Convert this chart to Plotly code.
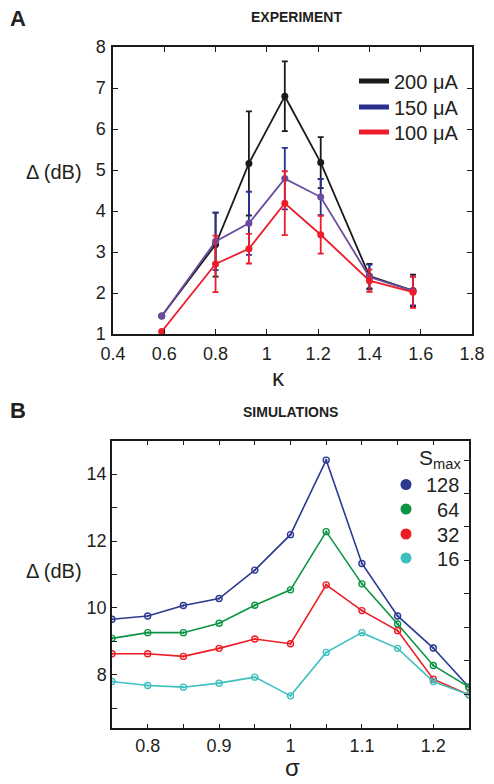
import plotly.graph_objects as go

# ---------------- Panel A data (EXPERIMENT) ----------------
kappa = [0.59, 0.80, 0.93, 1.07, 1.21, 1.40, 1.57]
d200 = [1.44, 3.18, 5.16, 6.80, 5.18, 2.41, 2.06]
e200 = [0.0, 0.78, 1.27, 0.85, 0.62, 0.30, 0.39]
d150 = [1.44, 3.26, 3.70, 4.79, 4.34, 2.39, 2.05]
e150 = [0.0, 0.70, 0.77, 0.75, 0.44, 0.30, 0.35]
d100 = [1.06, 2.71, 3.08, 4.19, 3.42, 2.30, 2.02]
e100 = [0.0, 0.69, 0.36, 0.78, 0.46, 0.27, 0.38]
legend_a = ["200 μA", "150 μA", "100 μA"]

# ---------------- Panel B data (SIMULATIONS) ----------------
sigma = [0.75, 0.80, 0.85, 0.90, 0.95, 1.00, 1.05, 1.10, 1.15, 1.20, 1.25]
s128 = [9.66, 9.76, 10.07, 10.28, 11.13, 12.19, 14.42, 11.33, 9.76, 8.80, 7.63]
s64 = [9.09, 9.26, 9.26, 9.54, 10.08, 10.54, 12.28, 10.72, 9.52, 8.28, 7.63]
s32 = [8.63, 8.63, 8.55, 8.79, 9.07, 8.93, 10.69, 9.92, 9.32, 7.87, 7.40]
s16 = [7.80, 7.68, 7.63, 7.75, 7.93, 7.37, 8.67, 9.26, 8.79, 7.80, 7.40]
legend_b = ["128", "\u200764", "\u200732", "\u200716"]

xt_a = [0.4, 0.6, 0.8, 1.0, 1.2, 1.4, 1.6, 1.8]
xt_a_text = ["0.4", "0.6", "0.8", "1", "1.2", "1.4", "1.6", "1.8"]
yt_a = [1, 2, 3, 4, 5, 6, 7, 8]
xt_b = [0.8, 0.9, 1.0, 1.1, 1.2]
xt_b_text = ["0.8", "0.9", "1", "1.1", "1.2"]
xt_b_minor = [0.85, 0.95, 1.05, 1.15]
yt_b = [8, 10, 12, 14]
yt_b_minor = [7, 9, 11, 13]
yt_b_right = [7.42, 8.42, 9.42, 10.42, 11.42, 12.42, 13.42, 14.42]

FONT = "Liberation Sans, Arial, Helvetica, sans-serif"
TXT = "#231f20"
BLACK = "#1a1a1a"
BLUE = "#2a2f8e"
PURPLE = "#6b4c9e"
RED = "#ec1c2a"
C128 = "#2b3990"
C64 = "#0b9444"
C32 = "#ed1c24"
C16 = "#3dbfbf"

W, H = 494, 784
fig = go.Figure()


def exp_trace(y, e, line_col, err_col):
    return go.Scatter(
        x=kappa, y=y, mode="lines+markers", showlegend=False,
        line=dict(color=line_col, width=1.8),
        marker=dict(color=line_col, size=7, line=dict(width=0)),
        error_y=dict(type="data", array=e, visible=True, color=err_col,
                     thickness=1.8, width=3),
        xaxis="x", yaxis="y",
    )


fig.add_trace(exp_trace(d200, e200, BLACK, BLACK))
fig.add_trace(exp_trace(d150, e150, PURPLE, BLUE))
fig.add_trace(exp_trace(d100, e100, RED, RED))

legends_a = ["legend", "legend3", "legend4"]
legends_b = ["legend2", "legend5", "legend6", "legend7"]

for name, col, lg in zip(legend_a, [BLACK, BLUE, RED], legends_a):
    fig.add_trace(go.Scatter(x=[None], y=[None], mode="lines", name=name,
                             line=dict(color=col, width=5), legend=lg,
                             xaxis="x", yaxis="y"))

for y, col, name, lg in zip([s128, s64, s32, s16], [C128, C64, C32, C16],
                            legend_b, legends_b):
    fig.add_trace(go.Scatter(
        x=sigma, y=y, mode="lines+markers", showlegend=False,
        line=dict(color=col, width=1.6),
        marker=dict(color=col, size=6, symbol="circle-open-dot",
                    line=dict(width=1.4, color=col)),
        xaxis="x2", yaxis="y2"))
    fig.add_trace(go.Scatter(
        x=[None], y=[None], mode="markers", name=name, legend=lg,
        marker=dict(color=col, size=11), xaxis="x2", yaxis="y2"))

# dummy trace for right-side tick axis of panel B
fig.add_trace(go.Scatter(x=[None], y=[None], showlegend=False,
                         xaxis="x2", yaxis="y3"))

axis_common = dict(showline=True, linecolor=BLACK, linewidth=1.5,
                   ticks="inside", ticklen=5, tickwidth=1.2, tickcolor=BLACK,
                   showgrid=False, zeroline=False, automargin=False,
                   tickfont=dict(family=FONT, size=18, color=TXT))
minor_common = dict(ticks="inside", ticklen=5, tickwidth=1.2, tickcolor=BLACK,
                    showgrid=False)

fig.update_layout(
    width=W, height=H,
    margin=dict(l=0, r=0, t=0, b=0),
    paper_bgcolor="white", plot_bgcolor="white",
    font=dict(family=FONT, color=TXT),
    xaxis=dict(domain=[113/W, 472/W], range=[0.4, 1.8], anchor="y",
               tickvals=xt_a, ticktext=xt_a_text, mirror="ticks",
               ticklabelstandoff=3, **axis_common),
    yaxis=dict(domain=[1-334/H, 1-47/H], range=[1, 8], anchor="x",
               tickvals=yt_a, mirror="ticks", ticklabelstandoff=2, **axis_common),
    xaxis2=dict(domain=[112/W, 469/W], range=[0.75, 1.25], anchor="y2",
                tickvals=xt_b, ticktext=xt_b_text, mirror="ticks",
                minor=dict(tickvals=xt_b_minor, **minor_common), **axis_common),
    yaxis2=dict(domain=[1-728.3/H, 1-440.7/H], range=[6.4, 15], anchor="x2",
                tickvals=yt_b, minor=dict(tickvals=yt_b_minor, **minor_common),
                **axis_common),
    yaxis3=dict(overlaying="y2", side="right", anchor="x2", range=[6.4, 15],
                tickvals=yt_b_right, showticklabels=False, ticks="inside",
                ticklen=5, tickwidth=1.2, tickcolor=BLACK, showline=True,
                linecolor=BLACK, linewidth=1.5, showgrid=False, zeroline=False,
                automargin=False),
)

leg_style = dict(xanchor="left", yanchor="middle", bgcolor="rgba(0,0,0,0)",
                 borderwidth=0, font=dict(family=FONT, size=20, color=TXT),
                 itemwidth=30)
for lg, cy in zip(legends_a, [81, 107, 132]):
    fig.update_layout({lg: dict(x=354/W, y=1-cy/H, **leg_style)})
for lg, cy in zip(legends_b, [484.5, 509, 534, 558]):
    fig.update_layout({lg: dict(x=386/W, y=1-cy/H, **leg_style)})


def note(text, px, py, size, xanchor="center"):
    fig.add_annotation(text=text, x=px/W, y=1-py/H, xref="paper", yref="paper",
                       xanchor=xanchor, yanchor="middle", showarrow=False,
                       font=dict(family=FONT, size=size, color=TXT))


note("<b>A</b>", 8, 18, 22, "left")
note("<b>B</b>", 8, 410, 22, "left")
note("<b>EXPERIMENT</b>", 296, 17, 14)
note("<b>SIMULATIONS</b>", 290, 412, 14)
note("Δ (dB)", 84, 172, 20, "right")
note("Δ (dB)", 84, 571, 20, "right")
note("S<sub>max</sub>", 463, 459, 21, "right")
note("κ", 278, 377, 24)
note("σ", 292, 767, 24)

fig.write_html("out.html", config={"displayModeBar": False},
               post_script="document.body.style.margin='0';"
                           "document.body.style.overflow='hidden';")
